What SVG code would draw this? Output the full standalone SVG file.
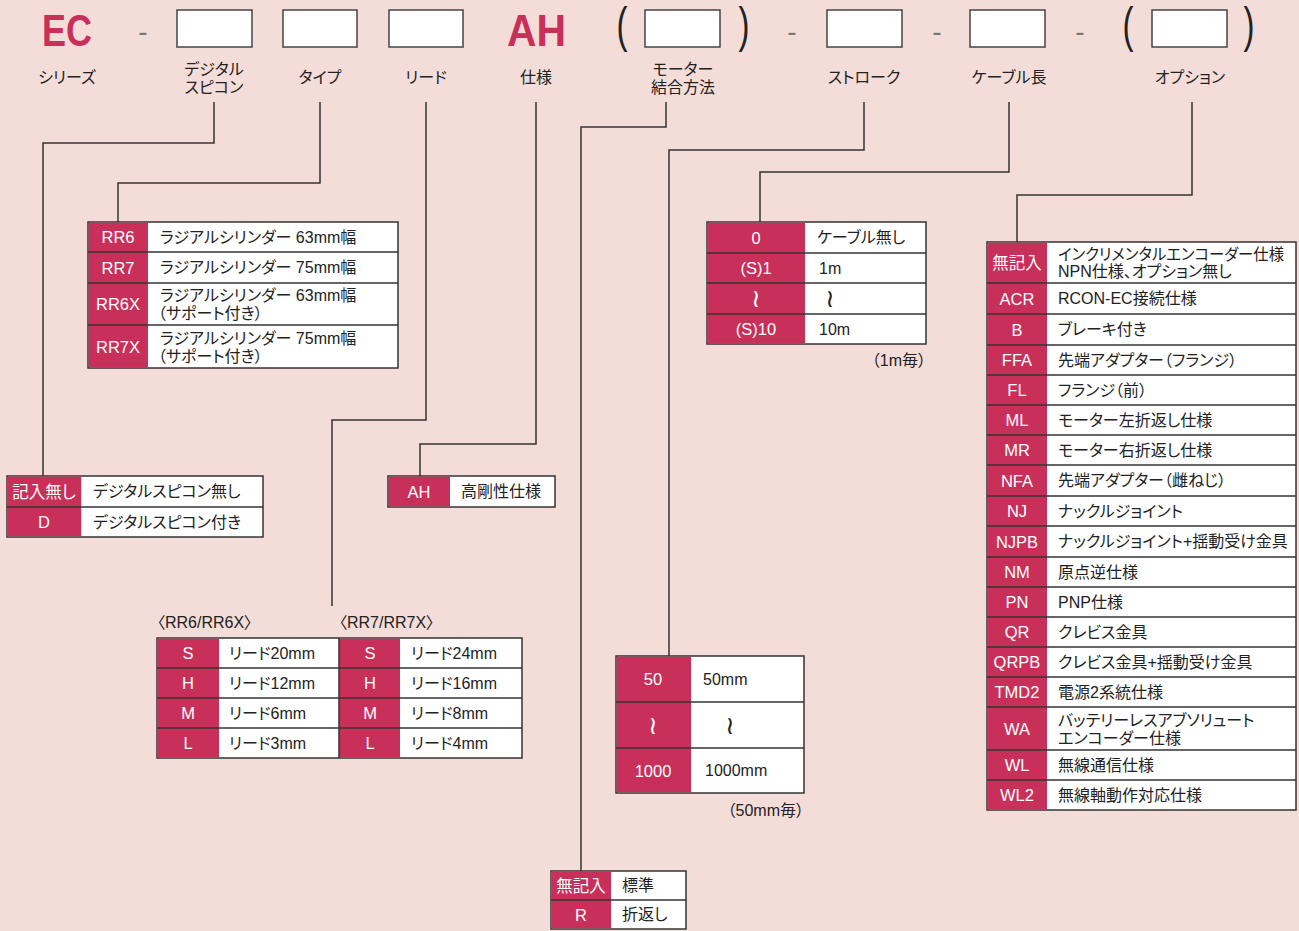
<svg xmlns="http://www.w3.org/2000/svg" width="1299" height="931" viewBox="0 0 1299 931">
<style>
.bg{fill:#f4dcd8}
.hbox{fill:#fff;stroke:#444;stroke-width:1.5}
.big{font-family:"Liberation Sans","Noto Sans CJK JP",sans-serif;font-weight:700;font-size:44px;fill:#c8305a}
.dash{font-family:"Liberation Sans",sans-serif;font-size:28px;fill:#777;text-anchor:middle}
.par{font-family:"Liberation Sans",sans-serif;font-size:33px;fill:#222;text-anchor:middle}
.lbl{font-family:"Noto Sans CJK JP",sans-serif;font-size:16px;fill:#222;text-anchor:middle;dominant-baseline:central;font-feature-settings:"palt"}
.cell{fill:#fff;stroke:#333;stroke-width:1.5}
.red{fill:#c8305a}
.rl{stroke:#333;stroke-width:1.5}
.code{font-family:"Liberation Sans","Noto Sans CJK JP",sans-serif;font-size:16.5px;fill:#fff;text-anchor:middle;dominant-baseline:central;font-feature-settings:"palt"}
.desc{font-family:"Liberation Sans","Noto Sans CJK JP",sans-serif;font-size:16px;fill:#222;dominant-baseline:central;font-feature-settings:"palt"}
.wave{font-family:"DejaVu Sans","Noto Sans CJK JP",sans-serif;font-size:25px;text-anchor:middle;dominant-baseline:central}
.note{font-family:"Liberation Sans","Noto Sans CJK JP",sans-serif;font-size:16px;fill:#222;text-anchor:end;dominant-baseline:central;font-feature-settings:"palt"}
.hdr{font-family:"Liberation Sans","Noto Sans CJK JP",sans-serif;font-size:16px;fill:#222;dominant-baseline:central;font-feature-settings:"palt"}
.conn{fill:none;stroke:#333;stroke-width:1.5}
</style>
<rect class="bg" x="0" y="0" width="1299" height="931"/>

<g id="header">
<text class="big" x="42" y="46" textLength="50" lengthAdjust="spacingAndGlyphs">EC</text>
<text class="dash" x="143" y="41">-</text>
<rect class="hbox" x="177" y="10" width="75" height="37"/>
<rect class="hbox" x="283" y="10" width="74" height="37"/>
<rect class="hbox" x="389" y="10" width="74" height="37"/>
<text class="big" x="507" y="46" textLength="59" lengthAdjust="spacingAndGlyphs">AH</text>
<text class="par" transform="translate(622,42) scale(1,1.5)">(</text>
<rect class="hbox" x="645" y="10" width="75" height="37"/>
<text class="par" transform="translate(744,42) scale(1,1.5)">)</text>
<text class="dash" x="792" y="41">-</text>
<rect class="hbox" x="827" y="10" width="75" height="37"/>
<text class="dash" x="937" y="41">-</text>
<rect class="hbox" x="970" y="10" width="75" height="37"/>
<text class="dash" x="1080" y="41">-</text>
<text class="par" transform="translate(1128,42) scale(1,1.5)">(</text>
<rect class="hbox" x="1152" y="10" width="75" height="37"/>
<text class="par" transform="translate(1249,42) scale(1,1.5)">)</text>
<text class="lbl" x="67" y="76">シリーズ</text>
<text class="lbl"><tspan x="214" y="68">デジタル</tspan><tspan x="214" y="86">スピコン</tspan></text>
<text class="lbl" x="320" y="76">タイプ</text>
<text class="lbl" x="426" y="76">リード</text>
<text class="lbl" x="536" y="76">仕様</text>
<text class="lbl"><tspan x="683" y="68">モーター</tspan><tspan x="683" y="86">結合方法</tspan></text>
<text class="lbl" x="864" y="76">ストローク</text>
<text class="lbl" x="1009" y="76">ケーブル長</text>
<text class="lbl" x="1190" y="76">オプション</text>
</g>

<g id="connectors">
<polyline class="conn" points="214,102 214,143 43,143 43,476"/>
<polyline class="conn" points="320,102 320,183 118,183 118,222"/>
<polyline class="conn" points="426,102 426,420 332,420 332,606"/>
<polyline class="conn" points="536,102 536,444 420,444 420,476"/>
<polyline class="conn" points="666,102 666,127 581,127 581,871"/>
<polyline class="conn" points="864,102 864,150 669,150 669,656"/>
<polyline class="conn" points="1009,102 1009,172 760,172 760,222"/>
<polyline class="conn" points="1192,102 1192,195 1017,195 1017,242"/>
</g>

<g id="tbl-digital">
<rect class="cell" x="7" y="476" width="256" height="61"/>
<rect class="red" x="7.75" y="476.75" width="73.5" height="59.5"/>
<line class="rl" x1="7" y1="507" x2="263" y2="507"/>
<text class="code" x="44" y="491.5">記入無し</text>
<text class="code" x="44" y="522">D</text>
<text class="desc" x="93" y="491.5">デジタルスピコン無し</text>
<text class="desc" x="93" y="522">デジタルスピコン付き</text>
</g>

<g id="tbl-type">
<rect class="cell" x="88" y="222" width="310" height="146"/>
<rect class="red" x="88.75" y="222.75" width="59.25" height="144.5"/>
<line class="rl" x1="88" y1="252" x2="398" y2="252"/>
<line class="rl" x1="88" y1="283" x2="398" y2="283"/>
<line class="rl" x1="88" y1="325" x2="398" y2="325"/>
<text class="code" x="118" y="237">RR6</text>
<text class="code" x="118" y="267.5">RR7</text>
<text class="code" x="118" y="304">RR6X</text>
<text class="code" x="118" y="346.5">RR7X</text>
<text class="desc" x="160" y="237">ラジアルシリンダー 63mm幅</text>
<text class="desc" x="160" y="267.5">ラジアルシリンダー 75mm幅</text>
<text class="desc"><tspan x="160" y="295">ラジアルシリンダー 63mm幅</tspan><tspan x="158" y="313">（サポート付き）</tspan></text>
<text class="desc"><tspan x="160" y="337.5">ラジアルシリンダー 75mm幅</tspan><tspan x="158" y="355.5">（サポート付き）</tspan></text>
</g>

<g id="tbl-spec">
<rect class="cell" x="388" y="476" width="167" height="31"/>
<rect class="red" x="388.75" y="476.75" width="61.25" height="29.5"/>
<text class="code" x="419" y="491.5">AH</text>
<text class="desc" x="461" y="491.5">高剛性仕様</text>
</g>

<g id="tbl-lead">
<text class="hdr" x="157" y="622">〈RR6/RR6X〉</text>
<text class="hdr" x="339" y="622">〈RR7/RR7X〉</text>
<rect class="cell" x="157" y="638" width="365" height="120"/>
<rect class="red" x="157.75" y="638.75" width="61.25" height="118.5"/>
<rect class="red" x="339" y="638.75" width="61" height="118.5"/>
<line class="rl" x1="157" y1="668" x2="522" y2="668"/>
<line class="rl" x1="157" y1="698" x2="522" y2="698"/>
<line class="rl" x1="157" y1="728" x2="522" y2="728"/>
<line class="rl" x1="339" y1="638" x2="339" y2="758"/>
<text class="code" x="188" y="653">S</text>
<text class="code" x="188" y="683">H</text>
<text class="code" x="188" y="713">M</text>
<text class="code" x="188" y="743">L</text>
<text class="desc" x="229" y="653">リード20mm</text>
<text class="desc" x="229" y="683">リード12mm</text>
<text class="desc" x="229" y="713">リード6mm</text>
<text class="desc" x="229" y="743">リード3mm</text>
<text class="code" x="370" y="653">S</text>
<text class="code" x="370" y="683">H</text>
<text class="code" x="370" y="713">M</text>
<text class="code" x="370" y="743">L</text>
<text class="desc" x="411" y="653">リード24mm</text>
<text class="desc" x="411" y="683">リード16mm</text>
<text class="desc" x="411" y="713">リード8mm</text>
<text class="desc" x="411" y="743">リード4mm</text>
</g>

<g id="tbl-motor">
<rect class="cell" x="551" y="871" width="135" height="58"/>
<rect class="red" x="551.75" y="871.75" width="59.25" height="56.5"/>
<line class="rl" x1="551" y1="900" x2="686" y2="900"/>
<text class="code" x="581" y="885.5">無記入</text>
<text class="code" x="581" y="914.5">R</text>
<text class="desc" x="622" y="885.5">標準</text>
<text class="desc" x="622" y="914.5">折返し</text>
</g>

<g id="tbl-stroke">
<rect class="cell" x="616" y="656" width="188" height="137"/>
<rect class="red" x="616.75" y="656.75" width="74.25" height="135.5"/>
<line class="rl" x1="616" y1="702" x2="804" y2="702"/>
<line class="rl" x1="616" y1="748" x2="804" y2="748"/>
<text class="code" x="653" y="679">50</text>
<text class="wave" x="653" y="725" fill="#fff">≀</text>
<text class="code" x="653" y="770.5">1000</text>
<text class="desc" x="703" y="679">50mm</text>
<text class="wave" x="730" y="725" fill="#222">≀</text>
<text class="desc" x="705" y="770.5">1000mm</text>
<text class="note" x="804" y="810">（50mm毎）</text>
</g>

<g id="tbl-cable">
<rect class="cell" x="707" y="222" width="219" height="122"/>
<rect class="red" x="707.75" y="222.75" width="97.25" height="120.5"/>
<line class="rl" x1="707" y1="253" x2="926" y2="253"/>
<line class="rl" x1="707" y1="283" x2="926" y2="283"/>
<line class="rl" x1="707" y1="314" x2="926" y2="314"/>
<text class="code" x="756" y="237.5">0</text>
<text class="code" x="756" y="268">(S)1</text>
<text class="wave" x="756" y="298.5" fill="#fff">≀</text>
<text class="code" x="756" y="329">(S)10</text>
<text class="desc" x="817" y="237.5">ケーブル無し</text>
<text class="desc" x="819" y="268">1m</text>
<text class="wave" x="830" y="298.5" fill="#222">≀</text>
<text class="desc" x="819" y="329">10m</text>
<text class="note" x="926" y="360">（1m毎）</text>
</g>

<g id="tbl-option">
<rect class="cell" x="987" y="242" width="309" height="568"/>
<rect class="red" x="987.75" y="242.75" width="59.25" height="566.5"/>
<g class="rl">
<line x1="987" y1="283" x2="1296" y2="283"/>
<line x1="987" y1="314" x2="1296" y2="314"/>
<line x1="987" y1="345" x2="1296" y2="345"/>
<line x1="987" y1="375" x2="1296" y2="375"/>
<line x1="987" y1="405" x2="1296" y2="405"/>
<line x1="987" y1="435" x2="1296" y2="435"/>
<line x1="987" y1="465" x2="1296" y2="465"/>
<line x1="987" y1="496" x2="1296" y2="496"/>
<line x1="987" y1="526" x2="1296" y2="526"/>
<line x1="987" y1="557" x2="1296" y2="557"/>
<line x1="987" y1="587" x2="1296" y2="587"/>
<line x1="987" y1="617" x2="1296" y2="617"/>
<line x1="987" y1="647" x2="1296" y2="647"/>
<line x1="987" y1="677" x2="1296" y2="677"/>
<line x1="987" y1="707" x2="1296" y2="707"/>
<line x1="987" y1="750" x2="1296" y2="750"/>
<line x1="987" y1="780" x2="1296" y2="780"/>
</g>
<text class="code" x="1017" y="262.5">無記入</text>
<text class="code" x="1017" y="298.5">ACR</text>
<text class="code" x="1017" y="329.5">B</text>
<text class="code" x="1017" y="360">FFA</text>
<text class="code" x="1017" y="390">FL</text>
<text class="code" x="1017" y="420">ML</text>
<text class="code" x="1017" y="450">MR</text>
<text class="code" x="1017" y="480.5">NFA</text>
<text class="code" x="1017" y="511">NJ</text>
<text class="code" x="1017" y="541.5">NJPB</text>
<text class="code" x="1017" y="572">NM</text>
<text class="code" x="1017" y="602">PN</text>
<text class="code" x="1017" y="632">QR</text>
<text class="code" x="1017" y="662">QRPB</text>
<text class="code" x="1017" y="692">TMD2</text>
<text class="code" x="1017" y="728.5">WA</text>
<text class="code" x="1017" y="765">WL</text>
<text class="code" x="1017" y="795">WL2</text>
<text class="desc"><tspan x="1058" y="254" textLength="226" lengthAdjust="spacingAndGlyphs">インクリメンタルエンコーダー仕様</tspan><tspan x="1058" y="271">NPN仕様、オプション無し</tspan></text>
<text class="desc" x="1058" y="298.5">RCON-EC接続仕様</text>
<text class="desc" x="1058" y="329.5">ブレーキ付き</text>
<text class="desc" x="1058" y="360">先端アダプター（フランジ）</text>
<text class="desc" x="1058" y="390">フランジ（前）</text>
<text class="desc" x="1058" y="420">モーター左折返し仕様</text>
<text class="desc" x="1058" y="450">モーター右折返し仕様</text>
<text class="desc" x="1058" y="480.5">先端アダプター（雌ねじ）</text>
<text class="desc" x="1058" y="511">ナックルジョイント</text>
<text class="desc" x="1058" y="541.5">ナックルジョイント+揺動受け金具</text>
<text class="desc" x="1058" y="572">原点逆仕様</text>
<text class="desc" x="1058" y="602">PNP仕様</text>
<text class="desc" x="1058" y="632">クレビス金具</text>
<text class="desc" x="1058" y="662">クレビス金具+揺動受け金具</text>
<text class="desc" x="1058" y="692">電源2系統仕様</text>
<text class="desc"><tspan x="1058" y="719.5">バッテリーレスアブソリュート</tspan><tspan x="1058" y="737.5">エンコーダー仕様</tspan></text>
<text class="desc" x="1058" y="765">無線通信仕様</text>
<text class="desc" x="1058" y="795">無線軸動作対応仕様</text>
</g>
</svg>
